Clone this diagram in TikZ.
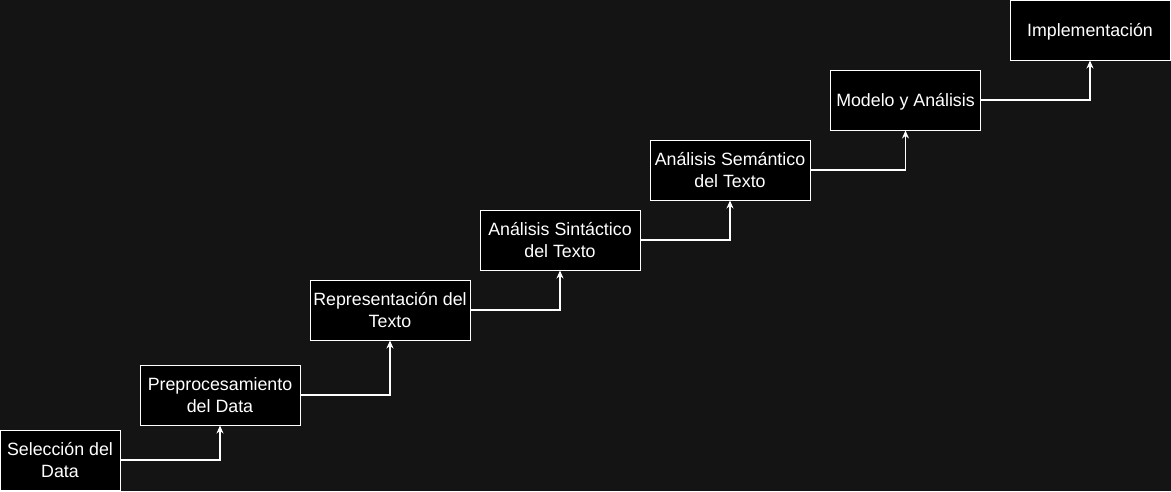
\documentclass[tikz,border=0pt]{standalone}
\usepackage{fontspec}
\setmainfont{Liberation Sans}
\usetikzlibrary{arrows.meta}
\definecolor{bg}{HTML}{141414}
\begin{document}
\begin{tikzpicture}[x=1pt,y=-1pt,
  box/.style={draw=white,fill=black,line width=1pt,text=white,align=center,
    inner sep=0pt,text depth=0pt,minimum height=60pt,font=\fontsize{17.8}{22}\selectfont},
  arr/.style={draw=white,line width=1.2pt,-{Stealth[length=8pt,width=7pt]}}]
\fill[bg] (0,0) rectangle (1171,491);
\useasboundingbox (0,0) rectangle (1171,491);
\node[box,minimum width=120pt] (b1) at (60,460) {Selección del\\Data};
\node[box,minimum width=160pt] (b2) at (220,395) {Preprocesamiento\\del Data};
\node[box,minimum width=160pt] (b3) at (390,310) {Representación del\\Texto};
\node[box,minimum width=160pt] (b4) at (560,240) {Análisis Sintáctico\\del Texto};
\node[box,minimum width=160pt] (b5) at (730,170) {Análisis Semántico\\del Texto};
\node[box,minimum width=150pt] (b6) at (905.5,100) {Modelo y Análisis};
\node[box,minimum width=160pt] (b7) at (1090,30) {Implementación};
\draw[arr] (b1.east) -| (b2.south);
\draw[arr] (b2.east) -| (b3.south);
\draw[arr] (b3.east) -| (b4.south);
\draw[arr] (b4.east) -| (b5.south);
\draw[arr] (b5.east) -| (b6.south);
\draw[arr] (b6.east) -| (b7.south);
\end{tikzpicture}
\end{document}
